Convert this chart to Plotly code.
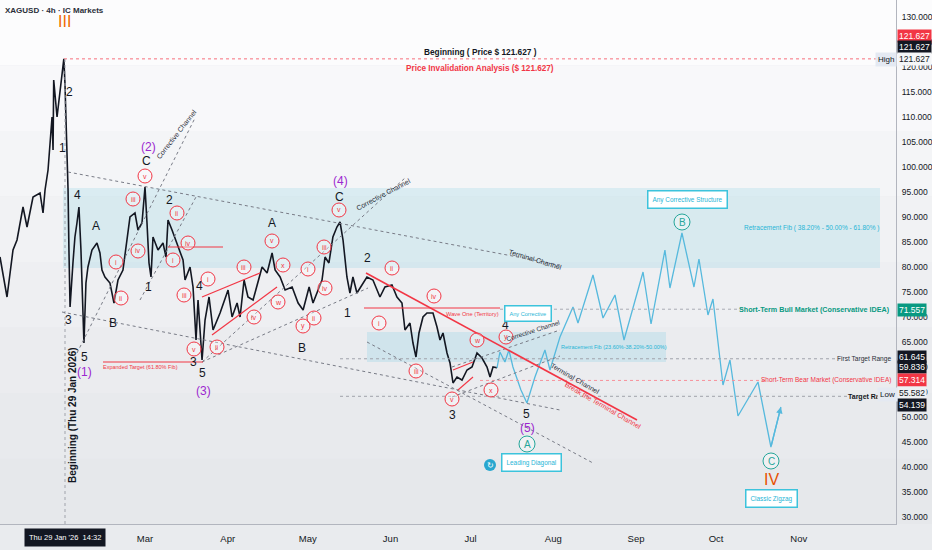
import plotly.graph_objects as go

# ---- data ----
price_time = [
    "2026-01-05 16:00", "2026-01-08 07:00", "2026-01-10 13:00", "2026-01-12 01:00", "2026-01-14 07:00",
    "2026-01-15 19:00", "2026-01-18 01:00", "2026-01-20 16:00", "2026-01-21 19:00", "2026-01-22 13:00",
    "2026-01-23 16:00", "2026-01-25 04:00", "2026-01-25 13:00", "2026-01-25 19:00", "2026-01-27 01:00",
    "2026-01-28 04:00", "2026-01-29 06:00", "2026-01-29 14:00", "2026-01-30 00:00", "2026-01-30 18:00",
    "2026-01-31 04:00", "2026-01-31 12:00", "2026-01-31 22:00", "2026-02-02 00:00", "2026-02-02 18:00",
    "2026-02-03 12:00", "2026-02-04 06:00", "2026-02-05 00:00", "2026-02-05 18:00", "2026-02-06 03:00",
    "2026-02-06 21:00", "2026-02-07 15:00", "2026-02-09 03:00", "2026-02-11 00:00", "2026-02-12 03:00",
    "2026-02-12 21:00", "2026-02-14 00:00", "2026-02-15 21:00", "2026-02-17 09:00", "2026-02-18 21:00",
    "2026-02-20 18:00", "2026-02-22 06:00", "2026-02-23 09:00", "2026-02-25 06:00", "2026-02-26 09:00",
    "2026-02-27 21:00", "2026-02-28 15:00", "2026-03-01 00:00", "2026-03-01 18:00", "2026-03-02 12:00",
    "2026-03-03 06:00", "2026-03-04 00:00", "2026-03-05 21:00", "2026-03-07 18:00", "2026-03-08 21:00",
    "2026-03-09 15:00", "2026-03-11 03:00", "2026-03-13 00:00", "2026-03-15 06:00", "2026-03-16 00:00",
    "2026-03-17 21:00", "2026-03-19 00:00", "2026-03-20 03:00", "2026-03-20 21:00", "2026-03-22 09:00",
    "2026-03-23 12:00", "2026-03-25 00:00", "2026-03-26 12:00", "2026-03-29 03:00", "2026-04-01 03:00",
    "2026-04-02 15:00", "2026-04-04 12:00", "2026-04-05 15:00", "2026-04-07 03:00", "2026-04-08 14:00",
    "2026-04-10 12:00", "2026-04-13 21:00", "2026-04-15 18:00", "2026-04-17 15:00", "2026-04-18 18:00",
    "2026-04-20 15:00", "2026-04-22 12:00", "2026-04-25 03:00", "2026-04-27 09:00", "2026-04-29 06:00",
    "2026-05-01 12:00", "2026-05-02 23:00", "2026-05-06 08:00", "2026-05-07 11:00", "2026-05-08 22:00",
    "2026-05-10 10:00", "2026-05-11 22:00", "2026-05-13 02:00", "2026-05-14 05:00", "2026-05-15 16:00",
    "2026-05-16 19:00", "2026-05-17 22:00", "2026-05-19 10:00", "2026-05-21 16:00", "2026-05-23 04:00",
    "2026-05-25 10:00", "2026-05-28 01:00", "2026-05-29 22:00", "2026-06-01 13:00", "2026-06-03 10:00",
    "2026-06-05 07:00", "2026-06-06 10:00", "2026-06-08 07:00", "2026-06-09 10:00", "2026-06-10 13:00",
    "2026-06-11 16:00", "2026-06-13 04:00", "2026-06-14 16:00", "2026-06-16 22:00", "2026-06-18 10:00",
    "2026-06-19 13:00", "2026-06-20 16:00", "2026-06-22 04:00", "2026-06-23 07:00", "2026-06-24 10:00",
    "2026-06-25 22:00", "2026-06-27 19:00", "2026-06-29 16:00", "2026-07-01 13:00", "2026-07-03 10:00",
    "2026-07-05 07:00", "2026-07-07 04:00", "2026-07-08 07:00", "2026-07-09 10:00", "2026-07-10 22:00",
]
price_close = [
    82, 74, 83.4, 85.4, 92, 88, 94, 94.8, 90.8, 95.4,
    99.4, 110, 103.4, 117.4, 110, 114.8, 119.4, 121.627, 116.8, 103,
    95.4, 83.4, 72, 80.8, 86, 88.8, 92, 83.4, 73.4, 64.8,
    76.8, 80, 83.4, 84.8, 82.8, 79.4, 78, 76.8, 72.8, 77.4,
    79.4, 86, 90, 90.8, 87.4, 88.8, 94, 96, 88.8, 80.8,
    78, 86, 83.4, 84.8, 82, 89.4, 87.4, 84.8, 81.4, 77.4,
    80, 76, 65.4, 73.4, 61.4, 69.4, 74, 67.4, 70.8, 75.4,
    70, 72.8, 70, 77.4, 74, 73.4, 80, 78.8, 82.8, 79.4,
    78, 75.4, 76, 72.8, 71.4, 76, 72.8, 77.4, 82, 80.8,
    86, 88, 89, 85.4, 78, 74.8, 78, 74.8, 76.8, 78,
    77.4, 74, 76, 76.4, 74, 72.8, 67.4, 68.8, 64.8, 62,
    66.8, 70, 70.8, 70.8, 68, 65.4, 66.8, 62.8, 60.8, 56.8,
    58, 57.4, 59.4, 60, 62.8, 61.8, 60, 58, 60, 59.836,
]

proj_time = [
    "2026-07-10 22:00", "2026-07-12 00:00", "2026-07-13 21:00", "2026-07-15 09:00", "2026-07-16 21:00",
    "2026-07-19 21:00", "2026-07-22 03:00", "2026-07-25 03:00", "2026-07-28 21:00", "2026-07-30 18:00",
    "2026-08-03 12:00", "2026-08-08 09:00", "2026-08-10 06:00", "2026-08-15 21:00", "2026-08-19 15:00",
    "2026-08-24 03:00", "2026-08-27 12:00", "2026-09-03 15:00", "2026-09-06 15:00", "2026-09-11 20:00",
    "2026-09-13 17:00", "2026-09-18 05:00", "2026-09-22 17:00", "2026-09-24 14:00", "2026-09-27 23:00",
    "2026-09-29 20:00", "2026-10-03 14:00", "2026-10-06 05:00", "2026-10-09 05:00", "2026-10-16 17:00",
    "2026-10-21 13:00", "2026-10-25 07:00",
]
proj_price = [
    59.836, 63, 61, 63.4, 60, 55.4, 52.8, 58, 63.4, 59.4,
    66, 72, 68.8, 78.4, 69.8, 74.4, 65.4, 79, 68.6, 83.4,
    75.8, 86.8, 76, 81.6, 70.4, 73.6, 56.4, 61.4, 50.2, 57,
    44, 52,
]

month_ticks = ["2026-03-01", "2026-04-01", "2026-05-01", "2026-06-01", "2026-07-01",
               "2026-08-01", "2026-09-01", "2026-10-01", "2026-11-01"]
month_labels = ["Mar", "Apr", "May", "Jun", "Jul", "Aug", "Sep", "Oct", "Nov"]
price_ticks = list(range(30, 131, 5))

high_price = 121.627
bull_level = 71.557
first_target = 61.645
last_price = 59.836
bear_level = 57.314
low_price = 55.582
target_level = 54.139
fib_big = (79.8, 95.8)
fib_small = (61.0, 67.0)

# ---- layout helpers (pixel -> paper) ----
W, H = 896, 524
FONT = "Liberation Sans, Arial, sans-serif"
RED = "#f23645"
GRAY = "#787b86"
CYAN = "#26b5d6"
GREEN = "#089981"
PURPLE = "#9c27d0"
ORANGE = "#ef6c00"
BLUE = "#56b9dd"


def fx(x):
    return x / W


def fy(y):
    return 1 - y / H


fig = go.Figure()

fig.add_trace(go.Scatter(x=price_time, y=price_close, mode="lines",
                         line=dict(color="#131722", width=1.6), hoverinfo="skip"))
fig.add_trace(go.Scatter(x=proj_time, y=proj_price, mode="lines",
                         line=dict(color=BLUE, width=1.3), hoverinfo="skip"))

shapes = []
# background gradient bands
bands = ["#fcfcfd", "#f8f8fa", "#f4f5f7", "#f1f2f4", "#eeeff2", "#ebecef", "#e8eaed", "#e6e8eb"]
for i, c in enumerate(bands):
    shapes.append(dict(type="rect", xref="paper", yref="paper", x0=0, x1=932 / W,
                       y0=1 - (i + 1) / len(bands), y1=1 - i / len(bands),
                       fillcolor=c, line=dict(width=0), layer="below"))

# fib zones
shapes.append(dict(type="rect", xref="paper", yref="y", x0=fx(63), x1=fx(880),
                   y0=fib_big[0], y1=fib_big[1], fillcolor="rgba(90,195,220,0.16)",
                   line=dict(width=0), layer="below"))
shapes.append(dict(type="rect", xref="paper", yref="y", x0=fx(367), x1=fx(666),
                   y0=fib_small[0], y1=fib_small[1], fillcolor="rgba(90,195,220,0.18)",
                   line=dict(width=0), layer="below"))

# horizontal dotted levels
for lvl, xa, xb, col in [(high_price, 64, 880, "#f7707c"), (bull_level, 500, 745, "#a9acb5"),
                         (first_target, 340, 840, "#a0a3ab"), (bear_level, 480, 765, "#f7909a"),
                         (target_level, 340, 848, "#a0a3ab")]:
    shapes.append(dict(type="line", xref="paper", yref="y", x0=fx(xa), x1=fx(xb), y0=lvl, y1=lvl,
                       line=dict(color=col, width=1, dash="dot")))

# vertical start line
shapes.append(dict(type="line", xref="paper", yref="paper", x0=fx(65), x1=fx(65),
                   y0=0, y1=fy(59), line=dict(color="#a0a3ab", width=1, dash="dot")))

# gray dotted channels
for (xa, ya, xb, yb) in [(68, 172, 560, 265), (62, 312, 560, 410), (77, 353, 195, 118),
                         (140, 300, 196, 197), (202, 362, 405, 178), (202, 362, 368, 288),
                         (367, 342, 593, 463), (452, 367, 560, 330), (452, 397, 560, 356)]:
    shapes.append(dict(type="line", xref="paper", yref="paper", x0=fx(xa), y0=fy(ya),
                       x1=fx(xb), y1=fy(yb), line=dict(color=GRAY, width=1, dash="dot")))

# red lines
for (xa, ya, xb, yb, w) in [(103, 362, 203, 362, 1.2), (168, 247, 223, 247, 1.2),
                            (202, 297, 260, 273, 1.2), (212, 335, 277, 287, 1.2),
                            (364, 308, 500, 308, 1.2), (366, 273, 637, 420, 1.6),
                            (453, 370, 473, 362, 1.1), (458, 390, 473, 377, 1.1)]:
    shapes.append(dict(type="line", xref="paper", yref="paper", x0=fx(xa), y0=fy(ya),
                       x1=fx(xb), y1=fy(yb), line=dict(color=RED, width=w)))

ann = []


def label(text, x, y, color="#131722", size=11, bold=False, angle=0, xanchor="center", **kw):
    t = "<b>%s</b>" % text if bold else text
    ann.append(dict(text=t, x=fx(x), y=fy(y), xref="paper", yref="paper", showarrow=False,
                    font=dict(family=FONT, size=size, color=color), textangle=angle,
                    xanchor=xanchor, yanchor="middle", **kw))


def circled(text, x, y, color, r=7, size=7):
    shapes.append(dict(type="circle", xref="paper", yref="paper", x0=fx(x - r), x1=fx(x + r),
                       y0=fy(y + r), y1=fy(y - r), line=dict(color=color, width=1),
                       fillcolor="rgba(255,255,255,0.35)"))
    label(text, x, y, color=color, size=size)


# black wave labels
for t, x, y in [("2", 69, 92), ("1", 62, 148), ("4", 77, 195), ("A", 96, 226), ("3", 68, 320),
                ("B", 113, 323), ("5", 84, 357), ("C", 146, 161), ("1", 148, 287), ("2", 169, 200),
                ("4", 199, 286), ("3", 193, 362), ("5", 202, 373), ("A", 272, 223), ("B", 302, 348),
                ("C", 339, 197), ("1", 347, 313), ("2", 367, 258), ("3", 452, 415), ("4", 505, 325),
                ("5", 526, 414)]:
    label(t, x, y, size=12)

# purple intermediate degree
for t, x, y in [("(1)", 84, 372), ("(2)", 148, 147), ("(3)", 203, 391), ("(4)", 340, 181),
                ("(5)", 527, 428)]:
    label(t, x, y, color=PURPLE, size=12)

# red circled minor waves
for t, x, y in [("v", 145, 176), ("iii", 133, 199), ("iv", 138, 251), ("i", 116, 262),
                ("ii", 121, 298), ("ii", 177, 213), ("iv", 188, 243), ("i", 173, 260),
                ("iii", 184, 295), ("v", 194, 349), ("i", 208, 279), ("ii", 217, 347),
                ("iii", 244, 267), ("iv", 254, 317), ("v", 272, 241), ("x", 283, 265),
                ("w", 278, 302), ("y", 303, 326), ("ii", 314, 318), ("i", 308, 269),
                ("iii", 324, 247), ("iv", 325, 288), ("v", 339, 210), ("ii", 392, 268),
                ("i", 379, 323), ("iv", 434, 296), ("iii", 416, 371), ("v", 452, 399),
                ("w", 477, 340), ("y", 506, 337), ("x", 491, 390)]:
    circled(t, x, y, RED)

# green circled
for t, x, y in [("B", 682, 222), ("A", 527, 444), ("C", 771, 461)]:
    circled(t, x, y, "#26a69a", r=8, size=10)

label("III", 64, 21, color=ORANGE, size=16)
label("IV", 771, 479, color="#e65100", size=16)

label("XAGUSD · 4h · IC Markets", 3, 11, color="#2a2e39", size=8, bold=True, xanchor="left")
label("Beginning ( Price $ 121.627 )", 480, 52, size=8.3, bold=True)
label("Price Invalidation Analysis ($ 121.627)", 480, 68, color=RED, size=8.2, bold=True)
label("Beginning (Thu 29 Jan 2026)", 72, 415, size=10, bold=True, angle=-90)

# channel captions
label("Corrective Channel", 176, 134, color="#2a2e39", size=7, angle=-52)
label("Corrective Channel", 383, 194, color="#2a2e39", size=7, angle=-28)
label("Terminal Channel", 535, 259, color="#2a2e39", size=7, angle=17)
label("Corrective Channel", 533, 330, color="#2a2e39", size=6.5, angle=-18)
label("Terminal Channel", 575, 378, color="#2a2e39", size=7, angle=30)
label("Break the Terminal Channel", 603, 405, color=RED, size=7, angle=30)

label("Expanded Target (61.80% Fib)", 140, 367, color=RED, size=5.5)
label("Wave One (Territory)", 472, 314, color=RED, size=5.7)
label("Retracement Fib (23.60%-38.20%-50.00%)", 614, 347, color=CYAN, size=5.5)
label("Retracement Fib ( 38.20% - 50.00% - 61.80% )", 811, 228, color=CYAN, size=6.5)
label("Short-Term Bull Market (Conservative IDEA)", 892, 309, color=GREEN, size=7.2, bold=True, xanchor="right")
label("First Target Range", 893, 359, color="#2a2e39", size=6.6, xanchor="right")
label("Short-Term Bear Market (Conservative IDEA)", 893, 380, color=RED, size=6.5, xanchor="right")
label("Target Range", 846, 397, color="#131722", size=7, bold=True, xanchor="left")

# idea boxes
for t, x, y, s in [("Any Corrective", 528, 313, 5.6), ("Any Corrective Structure", 687, 200, 6.4),
                   ("Leading Diagonal", 531, 462, 6.4), ("Classic Zigzag", 771, 498, 6.4)]:
    label(t, x, y, color=CYAN, size=s, bgcolor="#ffffff", bordercolor="#3cc3dc",
          borderwidth=1.5, borderpad=4)

# small reload icon
shapes.append(dict(type="circle", xref="paper", yref="paper", x0=fx(484), x1=fx(496),
                   y0=fy(471), y1=fy(459), fillcolor="#29a7cf", line=dict(width=0)))
label("↻", 490, 465, color="#ffffff", size=8)

# projection arrow head
ann.append(dict(x=proj_time[-1], y=proj_price[-1], xref="x", yref="y", ax=-10, ay=40,
                showarrow=True, arrowhead=2, arrowsize=1, arrowwidth=1.3, arrowcolor=BLUE, text=""))

# price-scale tags


def tag(text, y, bg, fg="#ffffff"):
    ann.append(dict(text=text, x=1.001, y=fy(y), xref="paper", yref="paper", showarrow=False,
                    xanchor="left", yanchor="middle", bgcolor=bg, borderpad=1,
                    font=dict(family="Liberation Sans", size=8.5, color=fg)))


tag("%.3f" % high_price, 36, "#f23645")
tag("%.3f" % high_price, 47, "#131722")
tag("%.3f" % high_price, 59, "#f5f6f8", "#131722")
tag("%.3f" % bull_level, 310, "#089981")
tag("%.3f" % first_target, 357, "#131722")
tag("%.3f" % last_price, 367, "#131722")
tag("%.3f" % bear_level, 380, "#f23645")
tag("%.3f" % low_price, 393, "#eef0f3", "#131722")
tag("%.3f" % target_level, 405, "#131722")
label("High", 886, 59, color="#131722", size=8, bgcolor="#e4e9f2", borderpad=2)
label("Low", 887, 394, color="#131722", size=8, bgcolor="#e4e9f2", borderpad=2)

# crosshair date tag
ann.append(dict(text="Thu 29 Jan '26  14:32", x=fx(65), y=fy(537), xref="paper", yref="paper",
                xanchor="center", yanchor="middle", showarrow=False, bgcolor="#131722", borderpad=4,
                font=dict(family="Liberation Sans", size=7.5, color="#ffffff")))

fig.update_layout(
    width=932, height=550,
    margin=dict(l=0, r=36, t=0, b=26),
    paper_bgcolor="#e9ebee",
    plot_bgcolor="rgba(0,0,0,0)",
    showlegend=False,
    shapes=shapes,
    annotations=ann,
    xaxis=dict(type="date", range=["2026-01-05 16:00", "2026-12-07 10:00"],
               tickvals=month_ticks, ticktext=month_labels, showgrid=False, zeroline=False,
               showline=True, linecolor="#b2b5be", ticks="", ticklabelstandoff=6,
               tickfont=dict(family="Liberation Sans", size=9.5, color="#131722")),
    yaxis=dict(side="right", range=[28.6, 133.4], tickvals=price_ticks,
               ticktext=["%.3f" % v for v in price_ticks], showgrid=False, zeroline=False,
               showline=True, linecolor="#b2b5be", ticks="", ticklabelstandoff=3,
               tickfont=dict(family="Liberation Sans", size=8.5, color="#131722")),
)

fig.write_html("out.html", config={"displayModeBar": False},
               post_script="document.body.style.margin='0';")
